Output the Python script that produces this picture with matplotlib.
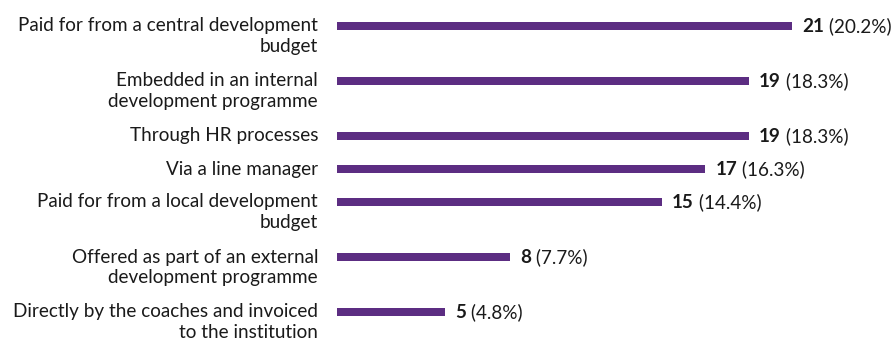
import matplotlib
matplotlib.use("Agg")
import matplotlib.pyplot as plt

# =========================
# Data
# =========================
labels = [
    "Paid for from a central development\nbudget",
    "Embedded in an internal\ndevelopment programme",
    "Through HR processes",
    "Via a line manager",
    "Paid for from a local development\nbudget",
    "Offered as part of an external\ndevelopment programme",
    "Directly by the coaches and invoiced\nto the institution",
]
counts   = [21, 19, 19, 17, 15, 8, 5]
percents = [20.2, 18.3, 18.3, 16.3, 14.4, 7.7, 4.8]

# =========================
# Style
# =========================
BAR_COLOR  = "#5c2d82"
TEXT_COLOR = "#1a1a1a"
FONT       = "Lato"
FONT_SIZE  = 13.6

W, H, DPI = 891, 341, 100
PX_PER_UNIT = 455 / 21      # bar length scale
BAR_X0      = 337           # left edge of bars (px)
LINE_PX     = 22            # label line height (px)
GAP_PX      = 11            # gap between label blocks (px)

plt.rcParams["font.family"] = [FONT, "DejaVu Sans"]

fig = plt.figure(figsize=(W / DPI, H / DPI), dpi=DPI)
ax = fig.add_axes([BAR_X0 / W, 0, 1 - BAR_X0 / W, 1])
ax.set_xlim(0, (W - BAR_X0) / PX_PER_UNIT)
ax.set_ylim(H, 0)
ax.axis("off")

# stack rows by the number of label lines
ys = []
y = 26
for lab in labels:
    ys.append(y)
    y += LINE_PX * (lab.count("\n") + 1) + GAP_PX

ax.barh(ys, counts, height=8, color=BAR_COLOR, left=0)

for lab, yv, c, p in zip(labels, ys, counts, percents):
    ax.annotate(lab, xy=(0, yv), xycoords=("axes fraction", "data"),
                xytext=(-19, 8.5), textcoords="offset pixels",
                ha="right", va="top", fontsize=FONT_SIZE,
                color=TEXT_COLOR, linespacing=1.28, multialignment="right")
    num = ax.annotate(f"{c}", xy=(c, yv), xytext=(10, -6),
                      textcoords="offset pixels", ha="left", va="baseline",
                      fontsize=FONT_SIZE, fontweight="bold", color=TEXT_COLOR)
    ax.annotate(f" ({p}%)", xy=(1, 0), xycoords=num, ha="left", va="bottom",
                fontsize=FONT_SIZE, color=TEXT_COLOR)

fig.savefig("out.png", dpi=DPI)
